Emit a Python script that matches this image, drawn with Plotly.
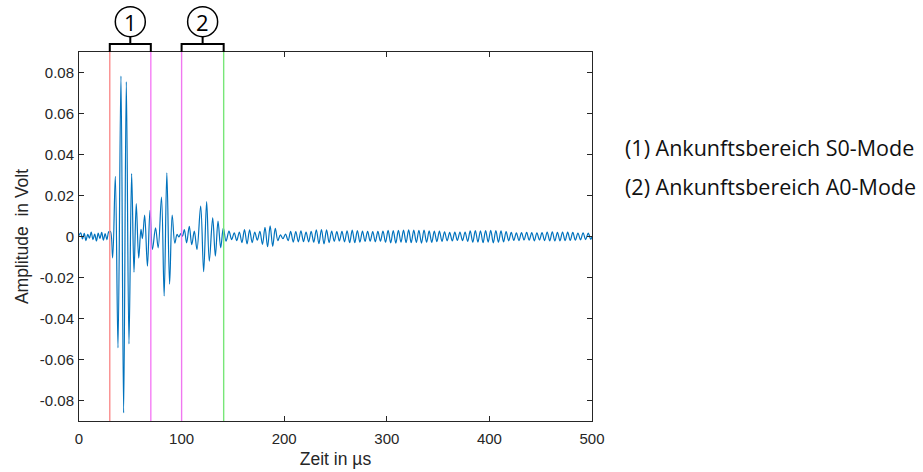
import plotly.graph_objects as go

# ---------- data (extrema of the waveform) ----------
t_pre = [0.0, 1.7, 3.4, 5.1, 6.8, 8.5, 10.2, 11.9, 13.6, 15.3, 17.0, 18.7, 20.4,
         22.1, 23.8, 25.5, 27.2, 28.9, 30.6]
a_pre = [0.0005, 0.0018, -0.0012, 0.0015, -0.0020, 0.0010, -0.0008, 0.0022, -0.0015,
         0.0012, -0.0022, 0.0016, -0.0010, 0.0020, -0.0018, 0.0014, -0.0016, 0.0022, 0.0025]

t_s0 = [32.8, 35.4, 38.0, 40.9, 43.5, 46.1, 48.7, 51.3, 53.6, 55.8, 58.2, 60.4, 61.8,
        64.0, 66.7, 69.2, 71.6, 74.6, 77.2, 80.4, 83.0, 85.6, 88.3, 90.8, 93.4, 95.6,
        97.4, 99.2, 100.8]
a_s0 = [-0.0104, 0.0294, -0.0543, 0.0782, -0.0860, 0.0755, -0.0524, 0.0307, -0.0174,
        0.0160, -0.0105, 0.0035, -0.0010, 0.0104, -0.0145, 0.0128, -0.0063, 0.0042,
        -0.0055, 0.0192, -0.0290, 0.0311, -0.0232, 0.0105, -0.0032, 0.0010, -0.0002,
        0.0014, 0.0002]

t_a0 = [102.7, 104.9, 107.5, 109.9, 112.4, 115.0, 118.6, 121.5, 124.4, 127.0, 130.3,
        132.9, 135.5, 138.1, 140.7, 143.3, 146.2, 148.8]
a_a0 = [0.0034, -0.0031, 0.0050, -0.0040, 0.0026, -0.0063, 0.0148, -0.0172, 0.0170,
        -0.0120, 0.0091, -0.0096, 0.0075, -0.0055, 0.0042, -0.0023, 0.0026, -0.0015]

t_tail = [151.3, 153.8, 156.3, 158.8, 161.3, 163.8, 166.3, 168.8, 171.3, 173.8,
          176.3, 178.8, 181.3, 183.8, 186.3, 188.8, 191.3, 193.8, 196.3, 198.8,
          201.3, 203.8, 206.3, 208.8, 211.3, 213.8, 216.3, 218.8, 221.3, 223.8,
          226.3, 228.8, 231.3, 233.8, 236.3, 238.8, 241.3, 243.8, 246.3, 248.8,
          251.3, 253.8, 256.3, 258.8, 261.3, 263.8, 266.3, 268.8, 271.3, 273.8,
          276.3, 278.8, 281.3, 283.8, 286.3, 288.8, 291.3, 293.8, 296.3, 298.8,
          301.3, 303.8, 306.3, 308.8, 311.3, 313.8, 316.3, 318.8, 321.3, 323.8,
          326.3, 328.8, 331.3, 333.8, 336.3, 338.8, 341.3, 343.8, 346.3, 348.8,
          351.3, 353.8, 356.3, 358.8, 361.3, 363.8, 366.3, 368.8, 371.3, 373.8,
          376.3, 378.8, 381.3, 383.8, 386.3, 388.8, 391.3, 393.8, 396.3, 398.8,
          401.3, 403.8, 406.3, 408.8, 411.3, 413.8, 416.3, 418.8, 421.3, 423.8,
          426.3, 428.8, 431.3, 433.8, 436.3, 438.8, 441.3, 443.8, 446.3, 448.8,
          451.3, 453.8, 456.3, 458.8, 461.3, 463.8, 466.3, 468.8, 471.3, 473.8,
          476.3, 478.8, 481.3, 483.8, 486.3, 488.8, 491.3, 493.8, 496.3, 498.8, 500.0]
a_tail = [0.0018, -0.0020, 0.0022, -0.0030, 0.0034, -0.0036, 0.0032, -0.0030, 0.0022, -0.0018,
          0.0025, -0.0038, 0.0045, -0.0050, 0.0052, -0.0048, 0.0040, -0.0020, 0.0008, -0.0010,
          0.0012, -0.0020, 0.0025, -0.0027, 0.0024, -0.0026, 0.0028, -0.0025, 0.0022, -0.0026,
          0.0025, -0.0028, 0.0033, -0.0035, 0.0034, -0.0036, 0.0032, -0.0030, 0.0026, -0.0024,
          0.0024, -0.0022, 0.0025, -0.0026, 0.0028, -0.0030, 0.0031, -0.0030, 0.0029, -0.0028,
          0.0026, -0.0024, 0.0025, -0.0023, 0.0024, -0.0026, 0.0025, -0.0023, 0.0026, -0.0028,
          0.0030, -0.0031, 0.0029, -0.0032, 0.0030, -0.0028, 0.0031, -0.0030, 0.0032, -0.0030,
          0.0031, -0.0029, 0.0030, -0.0032, 0.0031, -0.0028, 0.0027, -0.0029, 0.0026, -0.0025,
          0.0026, -0.0024, 0.0023, -0.0021, 0.0020, -0.0022, 0.0021, -0.0019, 0.0022, -0.0020,
          0.0022, -0.0024, 0.0027, -0.0028, 0.0029, -0.0027, 0.0028, -0.0030, 0.0029, -0.0027,
          0.0030, -0.0031, 0.0029, -0.0028, 0.0027, -0.0026, 0.0024, -0.0021, 0.0020, -0.0019,
          0.0018, -0.0020, 0.0019, -0.0017, 0.0020, -0.0018, 0.0019, -0.0021, 0.0018, -0.0017,
          0.0019, -0.0020, 0.0022, -0.0021, 0.0023, -0.0022, 0.0020, -0.0021, 0.0022, -0.0020,
          0.0021, -0.0019, 0.0020, -0.0018, 0.0017, -0.0016, 0.0018, -0.0015, 0.0016, -0.0014, 0.0]

# marker lines (µs) and regions
line_times = [30, 70, 100, 141]
line_colors = ["rgb(250,140,140)", "rgb(245,125,245)", "rgb(240,120,240)", "rgb(120,230,120)"]
regions = [(30, 70, "1"), (100, 141, "2")]
legend_lines = ["(1) Ankunftsbereich S0-Mode", "(2) Ankunftsbereich A0-Mode"]

x_ticks = [0, 100, 200, 300, 400, 500]
y_ticks = [-0.08, -0.06, -0.04, -0.02, 0, 0.02, 0.04, 0.06, 0.08]
y_ticktext = ["-0.08", "-0.06", "-0.04", "-0.02", "0", "0.02", "0.04", "0.06", "0.08"]

# ---------- figure ----------
t_all = t_pre + t_s0 + t_a0 + t_tail
a_all = a_pre + a_s0 + a_a0 + a_tail

fig = go.Figure()
fig.add_trace(go.Scatter(x=t_all, y=a_all, mode="lines",
                         line=dict(color="#0072BD", width=1.2, shape="spline", smoothing=1.0),
                         hoverinfo="skip", showlegend=False))

shapes = []
for t, c in zip(line_times, line_colors):
    shapes.append(dict(type="line", xref="x", yref="paper", x0=t, x1=t, y0=0, y1=1,
                       line=dict(color=c, width=1.4), layer="above"))

H = 369.0
def py(px_above_top):
    return 1 + px_above_top / H

for (ta, tb, lab) in regions:
    tc = (ta + tb) / 2
    ybar = py(8)
    path = (f"M {ta},{py(0)} L {ta},{ybar} L {tb},{ybar} L {tb},{py(0)} "
            f"M {tc},{ybar} L {tc},{py(15)}")
    shapes.append(dict(type="path", xref="x", yref="paper", path=path,
                       line=dict(color="black", width=2)))
    r_t = 15 / 1.026
    shapes.append(dict(type="circle", xref="x", yref="paper",
                       x0=tc - r_t, x1=tc + r_t, y0=py(15.3), y1=py(45.3),
                       line=dict(color="black", width=1.5)))

annotations = []
for (ta, tb, lab) in regions:
    tc = (ta + tb) / 2
    annotations.append(dict(x=tc, y=py(30.3), xref="x", yref="paper", text=lab,
                            showarrow=False, xanchor="center", yanchor="middle",
                            font=dict(family="Open Sans", size=22, color="black")))

for i, txt in enumerate(legend_lines):
    annotations.append(dict(x=(623 - 79) / 513.0, y=1 - (147 + 39 * i - 52) / H,
                            xref="paper", yref="paper", text=txt, showarrow=False,
                            xanchor="left", yanchor="middle",
                            font=dict(family="Open Sans", size=21.5, color="#111111")))

fig.update_layout(
    width=923, height=472,
    margin=dict(l=79, r=331, t=52, b=51),
    paper_bgcolor="white", plot_bgcolor="white",
    shapes=shapes, annotations=annotations,
    font=dict(family="Liberation Sans, Arial, sans-serif", size=15, color="#262626"),
    xaxis=dict(range=[0, 500], tickvals=x_ticks, ticks="inside", ticklen=5,
               tickcolor="#262626", showline=True, linecolor="#262626", linewidth=1,
               mirror="ticks", showgrid=False, zeroline=False, automargin=False,
               ticklabelstandoff=4,
               title=dict(text="Zeit in µs", font=dict(size=17.5), standoff=6),
               tickfont=dict(size=15)),
    yaxis=dict(range=[-0.09, 0.09], tickvals=y_ticks, ticktext=y_ticktext,
               ticks="inside", ticklen=5, tickcolor="#262626", showline=True,
               linecolor="#262626", linewidth=1, mirror="ticks", showgrid=False,
               zeroline=False, automargin=False, ticklabelstandoff=1,
               title=dict(text="Amplitude  in Volt", font=dict(size=17.5), standoff=6),
               tickfont=dict(size=15)),
)

fig.write_html("out.html", config={"displayModeBar": False},
               post_script="document.body.style.margin='0';")
